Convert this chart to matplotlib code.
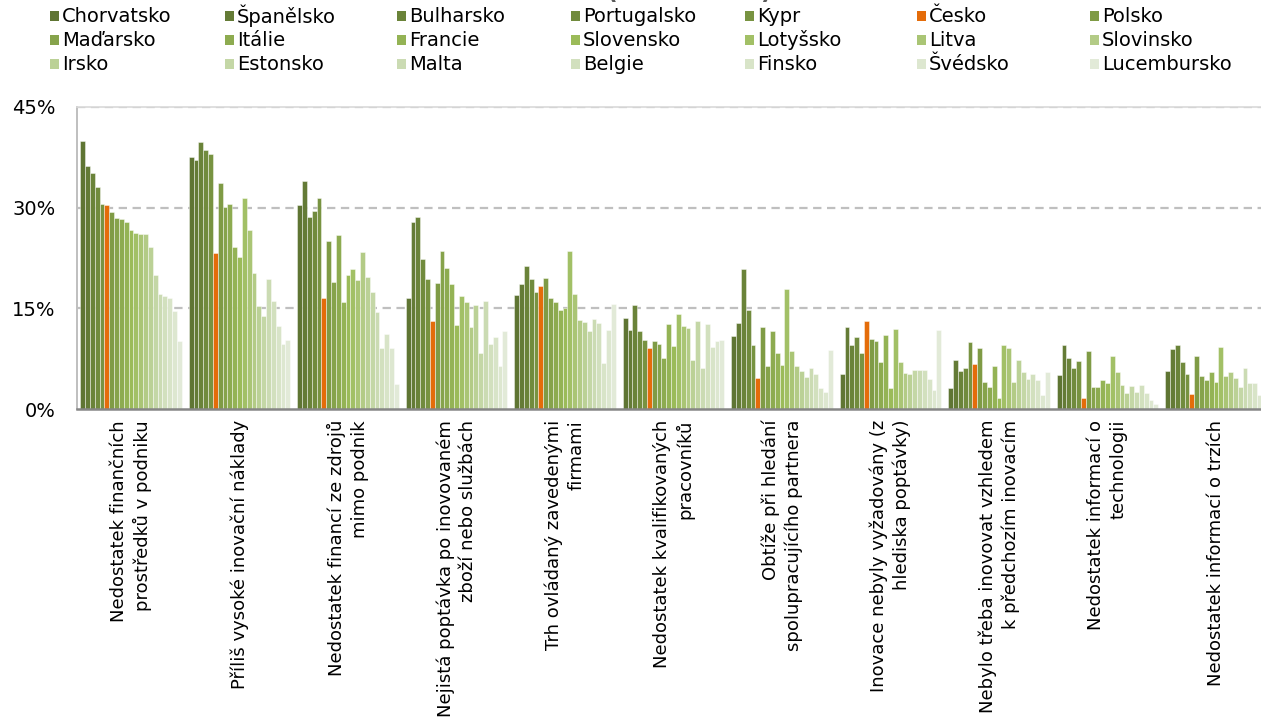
import matplotlib
matplotlib.use("Agg")
import matplotlib.pyplot as plt
from matplotlib.patches import Rectangle
import numpy as np

plt.rcParams['font.family'] = ['DejaVu Sans']
plt.rcParams['lines.scale_dashes'] = False

countries = ["Chorvatsko", "Španělsko", "Bulharsko", "Portugalsko", "Kypr", "Česko", "Polsko",
             "Maďarsko", "Itálie", "Francie", "Slovensko", "Lotyšsko", "Litva", "Slovinsko",
             "Irsko", "Estonsko", "Malta", "Belgie", "Finsko", "Švédsko", "Lucembursko"]

categories = [
    "Nedostatek finančních\nprostředků v podniku",
    "Příliš vysoké inovační náklady",
    "Nedostatek financí ze zdrojů\nmimo podnik",
    "Nejistá poptávka po inovovaném\nzboží nebo službách",
    "Trh ovládaný zavedenými\nfirmami",
    "Nedostatek kvalifikovaných\npracovníků",
    "Obtíže při hledání\nspolupracujícího partnera",
    "Inovace nebyly vyžadovány (z\nhlediska poptávky)",
    "Nebylo třeba inovovat vzhledem\nk předchozím inovacím",
    "Nedostatek informací o\ntechnologii",
    "Nedostatek informací o trzích",
]

# values per category (order of countries above), in %
cat01 = [39.9, 36.2, 35.2, 33.0, 30.6, 30.4, 29.4, 28.5, 28.3, 27.9, 26.6, 26.2, 26.1, 26.1, 24.1, 19.9, 17.2, 16.8, 16.6, 14.6, 10.2]
cat02 = [37.5, 37.0, 39.7, 38.6, 38.0, 23.3, 33.6, 30.1, 30.6, 24.2, 22.6, 31.4, 26.7, 20.3, 15.4, 13.9, 19.4, 16.1, 12.4, 9.7, 10.3]
cat03 = [30.4, 34.0, 28.6, 29.5, 31.4, 16.6, 25.1, 18.9, 25.9, 15.9, 19.9, 20.8, 19.2, 23.4, 19.7, 17.4, 14.5, 9.1, 11.2, 9.1, 3.7]
cat04 = [16.6, 27.9, 28.6, 22.3, 19.4, 13.2, 18.8, 23.6, 21.0, 18.6, 12.5, 16.9, 16.0, 12.2, 15.5, 8.3, 16.1, 9.7, 10.8, 6.5, 11.6]
cat05 = [17.0, 18.6, 21.3, 19.4, 17.5, 18.3, 19.6, 16.6, 15.9, 14.8, 15.0, 23.6, 17.2, 13.3, 13.0, 11.7, 13.5, 12.8, 6.9, 11.8, 15.6]
cat06 = [13.6, 11.8, 15.5, 11.6, 10.3, 9.1, 10.1, 9.7, 7.7, 12.7, 9.4, 14.1, 12.4, 12.1, 7.3, 13.2, 6.2, 12.7, 9.2, 10.1, 10.3]
cat07 = [10.9, 12.8, 20.8, 14.7, 9.5, 4.7, 12.2, 6.4, 11.7, 8.3, 6.6, 17.9, 8.6, 6.4, 5.7, 4.8, 6.1, 5.3, 3.2, 2.5, 8.8]
cat08 = [5.2, 12.3, 9.5, 10.8, 8.3, 13.2, 10.4, 10.2, 7.1, 11.0, 3.1, 11.9, 7.1, 5.4, 5.3, 5.8, 5.8, 5.8, 4.5, 2.8, 11.8]
cat09 = [3.2, 7.3, 5.7, 6.2, 10.0, 6.7, 9.1, 4.1, 3.3, 6.5, 1.7, 9.5, 9.1, 4.1, 7.4, 5.6, 4.5, 5.2, 4.3, 2.1, 5.5]
cat10 = [5.1, 9.5, 7.6, 6.2, 7.2, 1.7, 8.6, 3.3, 3.3, 4.4, 3.9, 7.9, 5.5, 3.6, 2.4, 3.5, 2.5, 3.6, 2.4, 1.4, 0.8]
cat11 = [5.7, 8.9, 9.5, 7.0, 5.3, 2.3, 7.9, 4.9, 4.3, 5.5, 4.0, 9.3, 4.9, 5.5, 4.7, 3.3, 6.1, 3.9, 3.9, 2.2, 2.0]

values = np.array([cat01, cat02, cat03, cat04, cat05, cat06, cat07, cat08, cat09, cat10, cat11])

yticks = [0, 15, 30, 45]
ytick_labels = ["0%", "15%", "30%", "45%"]

colors = ["#5f7533", "#647b36", "#6a8339", "#718b3d", "#789341", "#e46c0a", "#7f9b45",
          "#86a34b", "#8dab50", "#94b355", "#9bbb59", "#a2c066", "#aac575", "#b3cb86",
          "#bbd196", "#c4d7a6", "#cbdbb3", "#d2e0be", "#d8e4c8", "#dde7d0", "#e2ead8"]

W, H = 1261, 728
fig = plt.figure(figsize=(W / 100, H / 100), dpi=100)
ax_left = 76.7 / W
ax_w = 11 * 108.5 / W
ax_bottom = (H - 409.3) / H
ax_h = (409.3 - 106.7) / H
ax = fig.add_axes([ax_left, ax_bottom, ax_w, ax_h])

n = len(countries)
bw = 4.83 / 108.5
x = np.arange(len(categories))
for j in range(n):
    ax.bar(x + (j - (n - 1) / 2) * bw, values[:, j], width=bw, color=colors[j],
           edgecolor=(1, 1, 1, 0.6), linewidth=0.5, zorder=3)

ax.set_xlim(-0.5, len(categories) - 0.5)
ax.set_ylim(0, 45)
ax.set_yticks(yticks)
ax.set_yticklabels(ytick_labels, fontsize=14)
ax.tick_params(axis='y', length=0, pad=15)
ax.set_xticks([])

for yv in [15, 30, 45]:
    ln = ax.axhline(yv, color="#bfbfbf", linewidth=1.6, zorder=1)
    ln.set_dashes([6, 4])

ax.spines['right'].set_visible(False)
ax.spines['top'].set_color('#d9d9d9')
ax.spines['top'].set_linewidth(1.2)
ax.spines['left'].set_color('#bfbfbf')
ax.spines['left'].set_linewidth(1.4)
ax.spines['bottom'].set_color('#868686')
ax.spines['bottom'].set_linewidth(1.8)
ax.spines['bottom'].set_zorder(5)

# category labels (rotated)
for i, lab in enumerate(categories):
    ax.text(i, -0.035, lab, transform=ax.get_xaxis_transform(), rotation=90,
            ha='center', va='top', multialignment='right', fontsize=13,
            linespacing=1.3)

# legend (manual grid 7 x 3)
col_x = [50, 225, 397, 571, 745, 917, 1090]
row_y = [16, 40, 64]
for k, name in enumerate(countries):
    r, c = divmod(k, 7)
    px, py = col_x[c], row_y[r]
    fig.add_artist(Rectangle((px / W, 1 - (py + 5) / H), 9 / W, 10 / H,
                             transform=fig.transFigure, facecolor=colors[k],
                             edgecolor='none'))
    fig.text((px + 12) / W, 1 - py / H, name, fontsize=14, va='center', ha='left')

# title, mostly cut off at the top edge
fig.text(689 / W, 1 + 1 / H, "(2016–2018)", fontsize=17, fontweight='bold',
         color='#595959', ha='center', va='baseline')

fig.savefig("out.png", dpi=100)
